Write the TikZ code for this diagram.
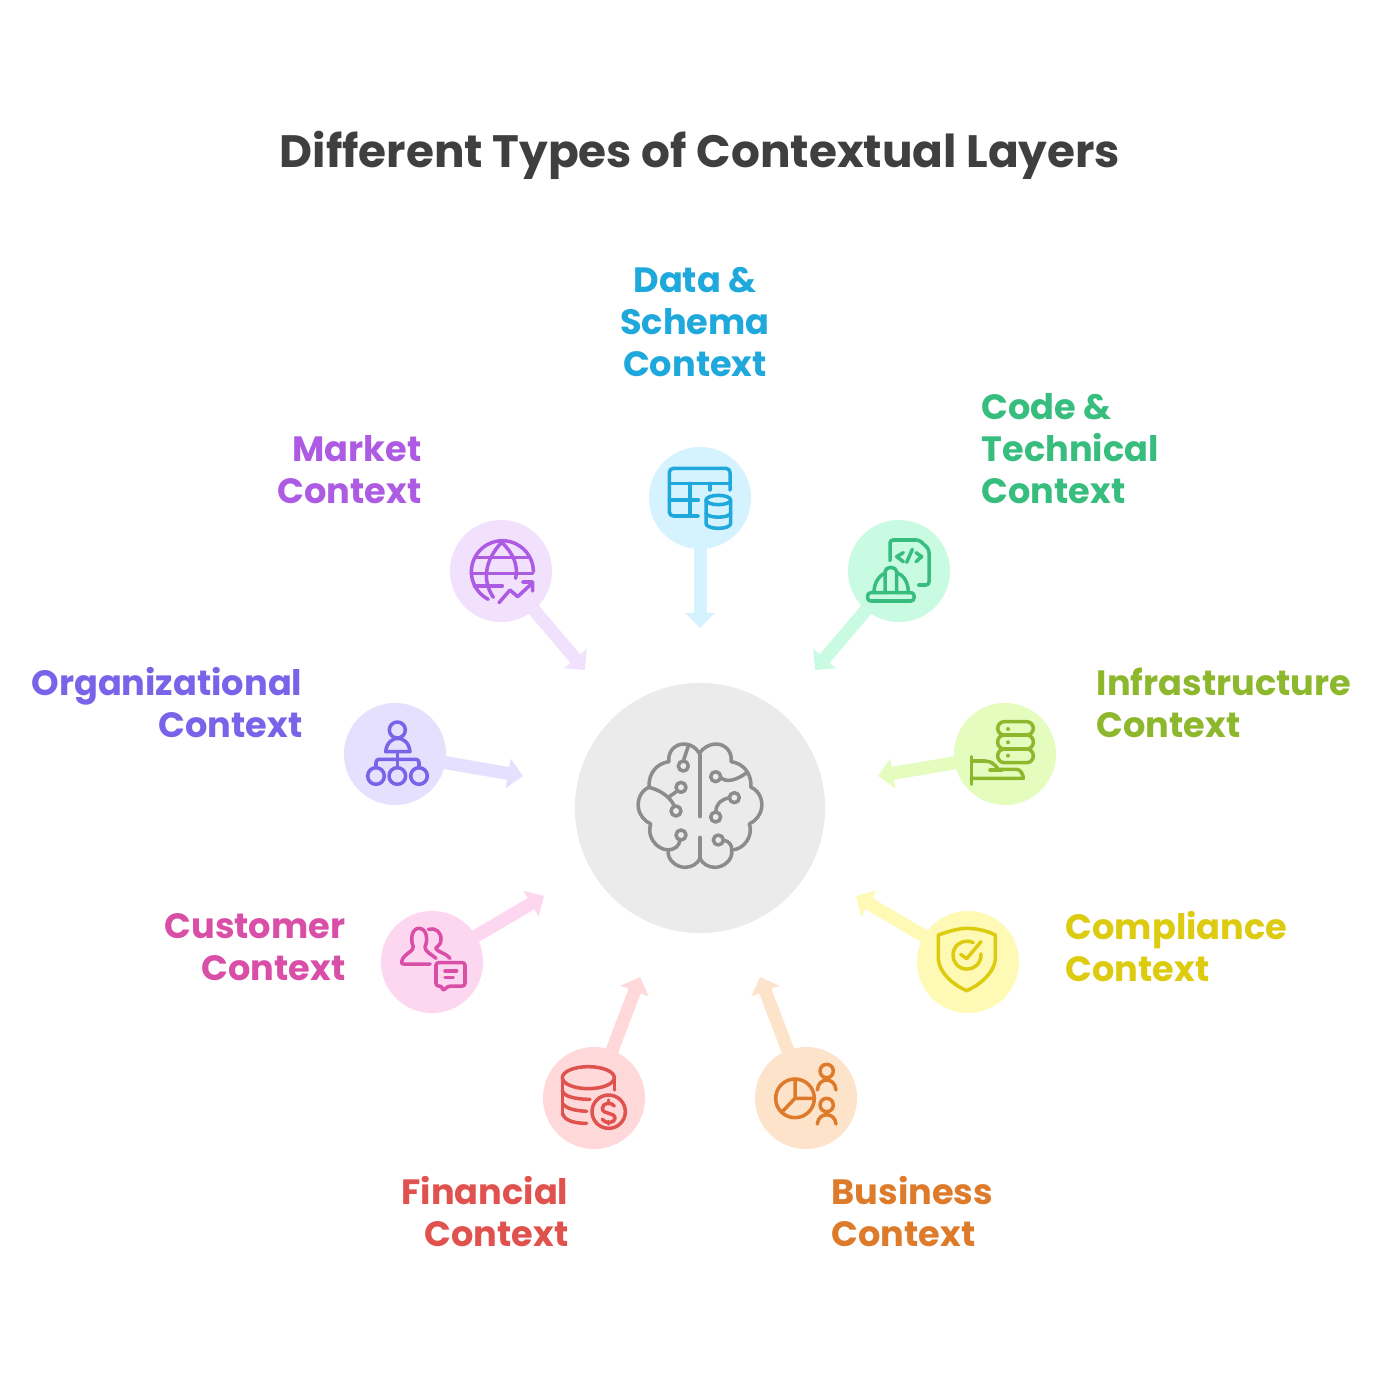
\documentclass[tikz,border=0pt]{standalone}
\usepackage{fontspec}
\setmainfont{Poppins}
\usetikzlibrary{arrows.meta}
\definecolor{databg}{HTML}{D5F3FE}\definecolor{datafg}{HTML}{1FA8DC}
\definecolor{codebg}{HTML}{C9FBE3}\definecolor{codefg}{HTML}{37BE7E}
\definecolor{infrabg}{HTML}{E4FDBE}\definecolor{infrafg}{HTML}{8DB82E}
\definecolor{compbg}{HTML}{FEF9B5}\definecolor{compfg}{HTML}{DCCB0E}
\definecolor{busbg}{HTML}{FEE3CB}\definecolor{busfg}{HTML}{DD7B2A}
\definecolor{finbg}{HTML}{FFD9D9}\definecolor{finfg}{HTML}{E0524E}
\definecolor{custbg}{HTML}{FDD7F0}\definecolor{custfg}{HTML}{D94FA8}
\definecolor{orgbg}{HTML}{E5E0FD}\definecolor{orgfg}{HTML}{7A63E8}
\definecolor{mktbg}{HTML}{F2E1FD}\definecolor{mktfg}{HTML}{AE5BE3}
\definecolor{brainbg}{HTML}{EBEBEB}\definecolor{brainfg}{HTML}{8C8C8C}
\definecolor{titlefg}{HTML}{3F3F3F}
\begin{document}
\begin{tikzpicture}[x=0.01cm,y=-0.01cm,>={Triangle[length=0.15cm,width=0.29cm]},
    main node/.style={circle,minimum size=1.02cm,inner sep=0pt,outer sep=0pt},
    ctx arrow/.style={->,line width=0.13cm,shorten <=-1pt},
    ctx label/.style={inner sep=0pt,font=\fontsize{10}{11.95}\selectfont\bfseries},
    icon/.style={line width=1pt,line cap=round,line join=round}]
    \fill[white] (0,0) rectangle (1400,1400);

    \node[inner sep=0pt,font=\fontsize{12.9}{14}\selectfont\bfseries,text=titlefg] (title) at (700,155) {Different Types of Contextual Layers};

    \node[main node,fill=brainbg,minimum size=2.5cm] (brain) at (700,808) {};
    \node[main node,fill=databg] (data) at (700,498) {};
    \node[main node,fill=codebg] (code) at (899,571) {};
    \node[main node,fill=infrabg] (infra) at (1005,754) {};
    \node[main node,fill=compbg] (comp) at (968,962) {};
    \node[main node,fill=busbg] (bus) at (806,1098) {};
    \node[main node,fill=finbg] (fin) at (594,1098) {};
    \node[main node,fill=custbg] (cust) at (432,962) {};
    \node[main node,fill=orgbg] (org) at (395,754) {};
    \node[main node,fill=mktbg] (mkt) at (501,571) {};

    \coordinate (datatip) at (700,628);
    \coordinate (codetip) at (815,670);
    \coordinate (infratip) at (878,776);
    \coordinate (comptip) at (856,896);
    \coordinate (bustip) at (760,977);
    \coordinate (fintip) at (640,977);
    \coordinate (custtip) at (544,896);
    \coordinate (orgtip) at (523,776);
    \coordinate (mkttip) at (585,670);

    \path[ctx arrow]
        (data) edge[databg] (datatip)
        (code) edge[codebg] (codetip)
        (infra) edge[infrabg] (infratip)
        (comp) edge[compbg] (comptip)
        (bus) edge[busbg] (bustip)
        (fin) edge[finbg] (fintip)
        (cust) edge[custbg] (custtip)
        (org) edge[orgbg] (orgtip)
        (mkt) edge[mktbg] (mkttip)
    ;

    \node[ctx label,text=datafg,align=center] (datatext) at (695,322) {Data \&\\Schema\\Context};
    \node[ctx label,text=codefg,align=left,anchor=west] (codetext) at (981,449) {Code \&\\Technical\\Context};
    \node[ctx label,text=infrafg,align=left,anchor=west] (infratext) at (1096,703) {Infrastructure\\Context};
    \node[ctx label,text=compfg,align=left,anchor=west] (comptext) at (1065,947) {Compliance\\Context};
    \node[ctx label,text=busfg,align=left,anchor=west] (bustext) at (831,1212) {Business\\Context};
    \node[ctx label,text=finfg,align=right,anchor=east] (fintext) at (569,1212) {Financial\\Context};
    \node[ctx label,text=custfg,align=right,anchor=east] (custtext) at (346,947) {Customer\\Context};
    \node[ctx label,text=orgfg,align=right,anchor=east] (orgtext) at (303,703) {Organizational\\Context};
    \node[ctx label,text=mktfg,align=right,anchor=east] (mkttext) at (422,470) {Market\\Context};

    % brain
    \begin{scope}[shift={(620,720)},scale=1/3,icon,brainfg]
        \draw (238,100) .. controls (228,82) and (210,72) .. (192,72) .. controls (165,72) and (142,95) .. (147,125) .. controls (110,130) and (85,160) .. (87,202) .. controls (62,212) and (52,240) .. (55,262) .. controls (58,285) and (72,302) .. (92,312) .. controls (80,345) and (105,388) .. (145,390) .. controls (140,420) and (170,442) .. (195,442) .. controls (215,442) and (232,432) .. (240,415) .. controls (248,432) and (265,442) .. (285,442) .. controls (310,442) and (340,420) .. (335,390) .. controls (375,388) and (400,345) .. (388,312) .. controls (408,302) and (422,285) .. (425,262) .. controls (428,240) and (418,212) .. (393,202) .. controls (395,160) and (370,130) .. (333,125) .. controls (338,95) and (315,72) .. (288,72) .. controls (270,72) and (250,82) .. (238,100);
        \draw (240,105) -- (240,290) (240,352) -- (240,415);
        \draw (190,138) circle[radius=15] (190,123) -- (205,78);
        \draw (183,202) circle[radius=15] (168,273) circle[radius=15];
        \draw (87,202) .. controls (120,210) and (150,230) .. (163,258) (145,232) -- (172,213);
        \draw (183,345) circle[radius=15] (180,360) .. controls (178,378) and (165,388) .. (145,390);
        \draw (287,170) circle[radius=15] (302,172) .. controls (320,190) and (350,180) .. (382,157);
        \draw (343,233) circle[radius=15] (287,291) circle[radius=15];
        \draw (328,233) .. controls (300,240) and (290,250) .. (287,276);
        \draw (295,360) circle[radius=15] (310,360) .. controls (330,365) and (335,375) .. (335,390);
    \end{scope}

    % data and code
    \begin{scope}[shift={(640,440)},scale=1/3,icon]
        \begin{scope}[datafg]
            \draw[rounded corners=0.04cm] (175,228) -- (88,228) -- (88,85) -- (270,85) -- (270,150);
            \draw (88,130) -- (270,130) (88,180) -- (175,180) (150,130) -- (150,228) (210,130) -- (210,150);
            \draw (235,180) ellipse[x radius=37,y radius=14];
            \draw (198,180) -- (198,250) .. controls (198,270) and (272,270) .. (272,250) -- (272,180);
            \draw (198,218) .. controls (198,236) and (272,236) .. (272,218);
        \end{scope}
        \begin{scope}[codefg]
            \draw[rounded corners=0.03cm] (750,362) -- (750,300) -- (838,300) -- (867,328) -- (867,435) -- (835,435);
            \draw (790,338) -- (770,350) -- (790,365) (817,328) -- (800,367) (828,338) -- (845,350) -- (828,365);
            \draw[rounded corners=0.03cm] (683,458) rectangle (822,483);
            \draw (702,458) .. controls (702,425) and (720,405) .. (737,398);
            \draw (805,458) .. controls (805,425) and (790,405) .. (770,398);
            \draw (735,458) -- (735,395) .. controls (735,378) and (770,378) .. (770,395) -- (770,458);
        \end{scope}
    \end{scope}

    % market and organizational
    \begin{scope}[shift={(340,510)},scale=1/3,icon]
        \begin{scope}[mktfg]
            \draw (445,268) arc[start angle=117,end angle=360,radius=93];
            \draw (485,97) .. controls (435,150) and (425,210) .. (460,262);
            \draw (485,97) .. controls (520,130) and (535,165) .. (527,205);
            \draw (405,143) -- (565,143) (393,190) -- (578,190) (403,228) -- (487,228);
            \draw (477,278) -- (510,240) -- (533,260) -- (578,218) (548,216) -- (578,216) -- (578,243);
        \end{scope}
        \begin{scope}[orgfg]
            \draw (172,660) circle[radius=24];
            \draw (137,725) .. controls (140,695) and (160,685) .. (173,685) .. controls (187,685) and (207,695) .. (210,725) -- cycle;
            \draw (172,725) -- (172,773);
            \draw[rounded corners=0.03cm] (108,773) -- (108,748) -- (237,748) -- (237,773);
            \draw (108,798) circle[radius=25] (172,798) circle[radius=25] (237,798) circle[radius=25];
        \end{scope}
    \end{scope}

    % infrastructure and compliance
    \begin{scope}[shift={(870,690)},scale=1/3,icon]
        \begin{scope}[infrafg]
            \draw[rounded corners=0.067cm] (383,95) rectangle (490,135) (383,135) rectangle (490,177) (383,177) rectangle (490,218);
            \fill (414,117) circle[radius=6] (414,157) circle[radius=6] (414,197) circle[radius=6];
            \draw (304,200) -- (304,283);
            \draw (304,213) -- (345,213) .. controls (365,213) and (375,225) .. (385,238) -- (440,238) .. controls (452,238) and (460,255) .. (460,265) -- (304,265);
            \draw (360,240) -- (395,240);
        \end{scope}
        \begin{scope}[compfg]
            \draw (205,735) .. controls (240,722) and (270,715) .. (290,715) .. controls (320,715) and (350,722) .. (376,735) -- (376,810) .. controls (370,850) and (330,885) .. (290,902) .. controls (250,885) and (210,850) .. (205,810) -- cycle;
            \draw (310,758) arc[start angle=297,end angle=-5,radius=42];
            \draw (272,793) -- (290,806) -- (333,755);
        \end{scope}
    \end{scope}

    % customer and financial
    \begin{scope}[shift={(370,890)},scale=1/3,icon]
        \begin{scope}[custfg]
            \draw (198,205) .. controls (180,190) and (165,185) .. (165,170) .. controls (175,150) and (170,115) .. (147,115) .. controls (125,115) and (120,150) .. (130,170) .. controls (132,185) and (100,190) .. (95,215) .. controls (94,220) and (96,222) .. (100,222) -- (180,222);
            \draw (175,118) .. controls (195,112) and (215,125) .. (213,150) .. controls (213,165) and (200,170) .. (197,175) .. controls (200,185) and (230,190) .. (240,205);
            \draw[rounded corners=0.025cm] (198,218) -- (198,288) -- (216,288) -- (218,303) -- (235,288) -- (285,288) -- (285,218) -- cycle;
            \draw (225,243) -- (260,243) (225,262) -- (250,262);
        \end{scope}
        \begin{scope}[finfg]
            \draw (655,563) ellipse[x radius=78,y radius=33];
            \draw (733,563) -- (733,600) (577,563) -- (577,670);
            \draw (577,600) .. controls (577,620) and (620,628) .. (660,628);
            \draw (577,640) .. controls (590,658) and (620,662) .. (650,664);
            \draw (577,670) .. controls (585,695) and (620,700) .. (650,700);
            \draw (716,665) circle[radius=50];
            \draw (733,648) .. controls (725,635) and (697,638) .. (697,655) .. controls (697,675) and (735,665) .. (735,685) .. controls (735,700) and (705,702) .. (697,688);
            \draw (716,630) -- (716,640) (716,695) -- (716,702);
        \end{scope}
    \end{scope}

    % business
    \begin{scope}[shift={(740,970)},scale=1/3,icon,busfg]
        \draw (165,385) circle[radius=58];
        \draw (165,327) -- (165,385) -- (223,385) (165,385) -- (125,427);
        \draw (260,303) circle[radius=20] (232,360) .. controls (235,320) and (285,320) .. (288,360);
        \draw (260,405) circle[radius=20] (232,462) .. controls (235,425) and (285,425) .. (288,462);
    \end{scope}
\end{tikzpicture}
\end{document}
